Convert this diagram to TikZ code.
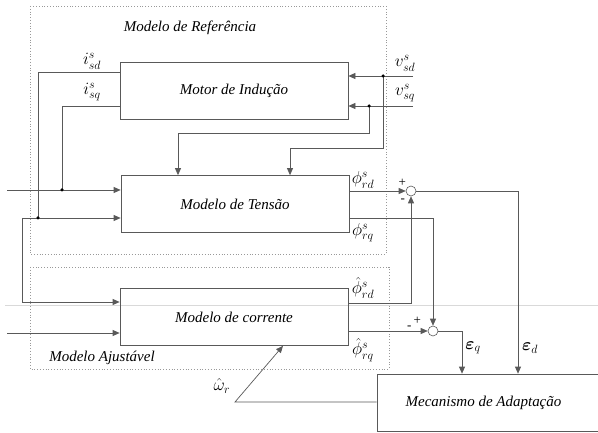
\documentclass[tikz,border=0pt]{standalone}
\usepackage{fontspec}
\setmainfont{Liberation Serif}
\usepackage{amsmath}
\usepackage{tikz}
\usetikzlibrary{positioning}
\usetikzlibrary{arrows.meta}
\usepackage{xcolor}
\definecolor{wirec}{gray}{0.35}

\begin{document}
\begin{tikzpicture}[x=1pt, y=-1pt,
        every node/.style = {font=\fontsize{15}{18}\selectfont},
          blk/.style = {draw=wirec, line width=.7pt, minimum width=228pt, minimum height=57pt, inner sep=0pt, font=\fontsize{15}{18}\selectfont\itshape},
          sum/.style = {draw=wirec, line width=.6pt, circle, minimum size=10pt, inner sep=0pt},
          zone/.style = {draw=gray!80, dotted, line width=.8pt},
          wire/.style = {draw=wirec, line width=.7pt},
          ar/.style = {wire, -{Triangle[length=7pt,width=6pt]}},
          jdot/.style = {circle, fill=black, inner sep=0pt, minimum size=3.5pt},
          lab/.style = {inner sep=0pt, font=\fontsize{17}{19}\selectfont},
          sgn/.style = {inner sep=0pt, font=\fontsize{13}{15}\selectfont}
        ]
        \useasboundingbox (0,0) rectangle (598,433);
        \draw[gray!30, line width=.8pt] (5,305) -- (598,305);

        % dotted regions
        \draw[zone] (30,6) rectangle (386,254);
        \draw[zone] (30,267) rectangle (389,369);
        \node[font=\fontsize{15}{18}\selectfont\itshape] (tref) at (190,28) {Modelo de Referência};
        \node[font=\fontsize{15}{18}\selectfont\itshape] (tadj) at (102,358) {Modelo Ajustável};

        % blocks
        \node[blk] (motor) at (234,90.5) {Motor de Indução};
        \node[blk] (tensao) at (235,204) {Modelo de Tensão};
        \node[blk] (corr) at (234,317) {Modelo de corrente};
        \node[blk, minimum width=233pt, label={[font=\fontsize{15}{18}\selectfont\itshape, xshift=-10pt]center:Mecanismo de Adaptação}] (mec) at (493.5,402.5) {};

        % summing junctions
        \node[sum] (sd) at (411,191) {};
        \node[sum] (sq) at (433,331) {};
        \node[sgn, above left=1pt and 1pt of sd] (pd) {+};
        \node[sgn, below left=4pt and 2pt of sd] (md) {-};
        \node[sgn, above left=3pt and 8pt of sq] (pq) {+};
        \node[sgn, left=16pt of sq, yshift=3pt] (mq) {-};

        % stator currents
        \coordinate (jq) at (62,190);
        \coordinate (jd) at (38,218);
        \draw[wire] (motor.west |- 0,72) -| (jd);
        \draw[wire] (motor.west |- 0,106) -| (jq);
        \draw[ar] (7,190) -- (tensao.west |- 0,190);
        \draw[ar] (22,218) -- (tensao.west |- 0,218);
        \draw[ar] (22,218) -- (22,302) -- (corr.west |- 0,302);
        \draw[ar] (7,333) -- (corr.west |- 0,333);
        \node[jdot] at (jq) {};
        \node[jdot] at (jd) {};
        \node[lab] (isd) at (92,61) {$i^{s}_{sd}$};
        \node[lab] (isq) at (92,92) {$i^{s}_{sq}$};

        % stator voltages
        \coordinate (jvd) at (383,76);
        \coordinate (jvq) at (369,106);
        \draw[ar] (413,76) -- (motor.east |- 0,76);
        \draw[ar] (413,106) -- (motor.east |- 0,106);
        \draw[ar] (jvq) |- (178,133) -- (tensao.north -| 178,0);
        \draw[ar] (jvd) |- (290,148) -- (tensao.north -| 290,0);
        \node[jdot] at (jvd) {};
        \node[jdot] at (jvq) {};
        \node[lab] (vsd) at (405,63) {$v^{s}_{sd}$};
        \node[lab] (vsq) at (405,93) {$v^{s}_{sq}$};

        % fluxes and errors
        \draw[ar] (tensao.east |- 0,191) -- (sd.west);
        \draw[ar] (corr.east |- 0,303) -| (sd.south);
        \draw[ar] (tensao.east |- 0,218) -| (sq.north);
        \draw[ar] (corr.east |- 0,331) -- (sq.west);
        \draw[ar] (sd.east) -| (mec.north -| 518,0);
        \draw[ar] (sq.east) -| (mec.north -| 462,0);
        \node[lab] (frd) at (363,180) {$\phi^{s}_{rd}$};
        \node[lab] (frq) at (363,233) {$\phi^{s}_{rq}$};
        \node[lab] (hrd) at (363,288) {$\hat{\phi}^{s}_{rd}$};
        \node[lab] (hrq) at (363,350) {$\hat{\phi}^{s}_{rq}$};
        \node[lab] (eq) at (473,348) {$\boldsymbol{\varepsilon}_{q}$};
        \node[lab] (ed) at (530,348) {$\boldsymbol{\varepsilon}_{d}$};

        % speed estimate
        \draw[ar] (mec.west |- 0,402) -- (235,402) -- (corr.south -| 283,0);
        \node[lab] (wr) at (222,386) {$\hat{\omega}_{r}$};
        \end{tikzpicture}
\end{document}
